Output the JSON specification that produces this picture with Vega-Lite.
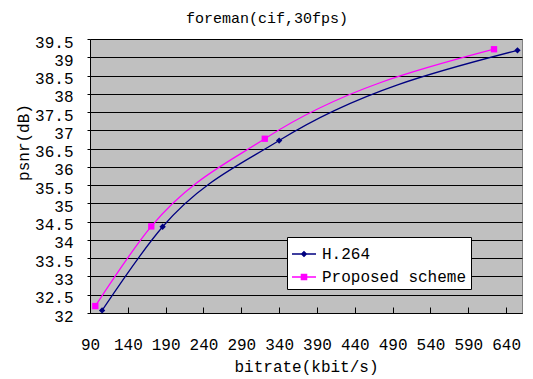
{
  "$schema": "https://vega.github.io/schema/vega-lite/v6.json",
  "width": 432,
  "height": 274,
  "autosize": {"type": "none"},
  "padding": {"left": 90, "top": 39, "right": 11, "bottom": 66},
  "background": "white",
  "title": {
    "text": "foreman(cif,30fps)",
    "font": "Liberation Mono",
    "fontSize": 15,
    "fontWeight": "normal",
    "color": "#000000",
    "anchor": "middle",
    "dx": -39,
    "offset": 8
  },
  "data": {
    "values": [
      {"series": "H.264", "bitrate": 106, "psnr": 32.07},
      {"series": "H.264", "bitrate": 186, "psnr": 34.36},
      {"series": "H.264", "bitrate": 340, "psnr": 36.72},
      {"series": "H.264", "bitrate": 655, "psnr": 39.19},
      {"series": "Proposed scheme", "bitrate": 97, "psnr": 32.19},
      {"series": "Proposed scheme", "bitrate": 171, "psnr": 34.37},
      {"series": "Proposed scheme", "bitrate": 321, "psnr": 36.77},
      {"series": "Proposed scheme", "bitrate": 624, "psnr": 39.22}
    ]
  },
  "encoding": {
    "x": {
      "field": "bitrate",
      "type": "quantitative",
      "scale": {"domain": [90, 661], "nice": false, "zero": false},
      "axis": {
        "title": "bitrate(kbit/s)",
        "values": [90, 140, 190, 240, 290, 340, 390, 440, 490, 540, 590, 640],
        "grid": false,
        "domainColor": "#000000",
        "tickColor": "#000000",
        "tickSize": -6,
        "labelPadding": 29,
        "labelFont": "Liberation Mono",
        "labelFontSize": 16,
        "labelColor": "#000000",
        "labelFlush": false,
        "labelOverlap": false,
        "titleFont": "Liberation Mono",
        "titleFontSize": 16,
        "titleFontWeight": "normal",
        "titleColor": "#000000",
        "titlePadding": 6
      }
    },
    "y": {
      "field": "psnr",
      "type": "quantitative",
      "scale": {"domain": [32, 39.5], "nice": false, "zero": false},
      "axis": {
        "title": "psnr(dB)",
        "values": [32, 32.5, 33, 33.5, 34, 34.5, 35, 35.5, 36, 36.5, 37, 37.5, 38, 38.5, 39, 39.5],
        "format": ".1~f",
        "grid": true,
        "gridColor": "#000000",
        "gridWidth": 1,
        "gridOpacity": 1,
        "domainColor": "#000000",
        "tickColor": "#000000",
        "tickSize": 3,
        "labelPadding": 14,
        "labelOffset": 3,
        "labelFont": "Liberation Mono",
        "labelFontSize": 16,
        "labelColor": "#000000",
        "labelFlush": false,
        "labelOverlap": false,
        "titleFont": "Liberation Mono",
        "titleFontSize": 16,
        "titleFontWeight": "normal",
        "titleColor": "#000000",
        "titleX": -67,
        "titleY": 103,
        "titleAngle": -90,
        "titleBaseline": "middle"
      }
    }
  },
  "layer": [
    {
      "mark": {"type": "line", "interpolate": "monotone", "strokeWidth": 1.3},
      "encoding": {
        "color": {
          "field": "series",
          "type": "nominal",
          "scale": {"domain": ["H.264", "Proposed scheme"], "range": ["#000080", "#FF00FF"]},
          "legend": {
            "title": null,
            "orient": "none",
            "legendX": 197,
            "legendY": 198,
            "symbolSize": 576,
            "symbolStrokeWidth": 1.3,
            "encode": {
              "symbols": {
                "update": {
                  "shape": {"signal": "datum.value === 'H.264' ? 'M-1,0H1M0,-0.2L0.2,0L0,0.2L-0.2,0Z' : 'M-1,0H1M-0.22,-0.22H0.22V0.22H-0.22Z'"},
                  "fill": {"signal": "datum.value === 'H.264' ? '#000080' : '#FF00FF'"},
                  "stroke": {"signal": "datum.value === 'H.264' ? '#000080' : '#FF00FF'"},
                  "strokeWidth": {"value": 1.3},
                  "size": {"value": 576},
                  "opacity": {"value": 1},
                  "fillOpacity": {"value": 1},
                  "strokeOpacity": {"value": 1}
                }
              }
            }
          }
        }
      }
    },
    {
      "mark": {"type": "point", "filled": true, "opacity": 1, "size": 40},
      "encoding": {
        "color": {
          "field": "series",
          "type": "nominal",
          "scale": {"domain": ["H.264", "Proposed scheme"], "range": ["#000080", "#FF00FF"]},
          "legend": null
        },
        "shape": {
          "condition": {"test": "datum.series === 'H.264'", "value": "diamond"},
          "value": "square"
        }
      }
    }
  ],
  "config": {
    "view": {"fill": "#C0C0C0", "stroke": "#808080", "strokeWidth": 1},
    "legend": {
      "labelFont": "Liberation Mono",
      "labelFontSize": 16,
      "labelColor": "#000000",
      "fillColor": "#FFFFFF",
      "strokeColor": "#000000",
      "padding": 4,
      "rowPadding": 2,
      "labelOffset": 5,
      "cornerRadius": 0
    }
  }
}
